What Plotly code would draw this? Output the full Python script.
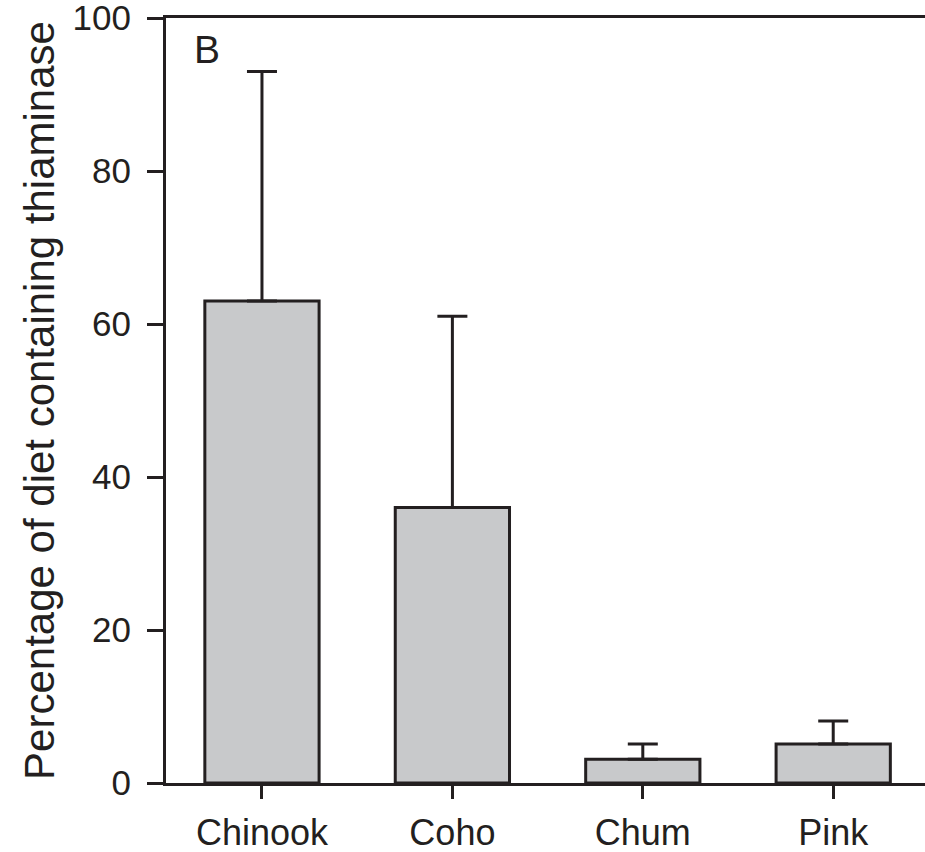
import plotly.graph_objects as go

categories = ["Chinook", "Coho", "Chum", "Pink"]
means = [63, 36, 3.1, 5.1]
err_upper = [30, 25, 2.0, 3.0]
y_ticks = [0, 20, 40, 60, 80, 100]

ink = "#231F20"
font_family = "Liberation Sans, Arial, sans-serif"

fig = go.Figure()
fig.add_trace(go.Bar(
    x=categories,
    y=means,
    width=0.6,
    marker=dict(color="#C8C9CB", line=dict(color=ink, width=3)),
    error_y=dict(type="data", symmetric=False, array=err_upper,
                 arrayminus=[0] * len(err_upper),
                 color=ink, thickness=3, width=15),
))

fig.add_annotation(text="B", x=0.034, y=0.9588, xref="paper", yref="paper",
                   xanchor="left", yanchor="middle", showarrow=False,
                   font=dict(size=39, color=ink, family=font_family))

fig.update_layout(
    width=925, height=852,
    margin=dict(l=166, r=0, t=18, b=69, autoexpand=False),
    plot_bgcolor="white", paper_bgcolor="white",
    showlegend=False,
    font=dict(family=font_family, color=ink, size=35),
    bargap=0.4,
)
fig.update_xaxes(
    range=[-0.504, 3.482],
    showline=True, linecolor=ink, linewidth=3, mirror=True,
    ticks="outside", ticklen=13, tickwidth=3, tickcolor=ink,
    showgrid=False, zeroline=False,
    tickfont=dict(size=36, color=ink),
    ticklabeloverflow="allow",
    ticklabelstandoff=3,
)
fig.update_yaxes(
    range=[0, 100],
    tickvals=y_ticks,
    showline=True, linecolor=ink, linewidth=3, mirror=False,
    ticks="outside", ticklen=16, tickwidth=3, tickcolor=ink,
    showgrid=False, zeroline=False,
    tickfont=dict(size=35, color=ink),
    ticklabeloverflow="allow",
    ticklabelstandoff=9,
    title=dict(text="Percentage of diet containing thiaminase",
               font=dict(size=42, color=ink), standoff=5),
)

# remove the default page margin so the figure fills the window exactly
fig.write_html(
    "out.html",
    config={"displayModeBar": False},
    post_script="document.body.style.margin='0';document.body.style.overflow='hidden';",
)
